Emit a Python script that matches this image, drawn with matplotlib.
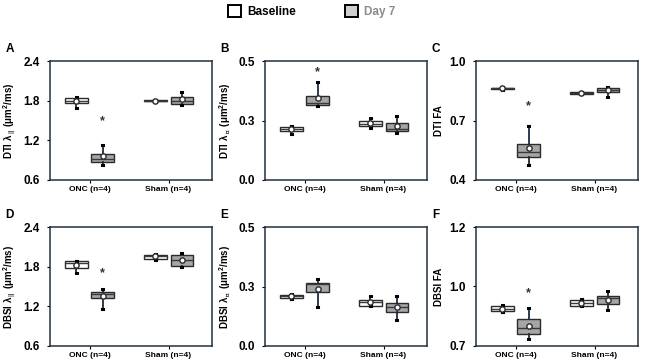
import matplotlib
matplotlib.use("Agg")
import matplotlib.pyplot as plt
from matplotlib.patches import Patch

plt.rcParams["font.family"] = ["Liberation Sans", "DejaVu Sans"]
plt.rcParams["font.weight"] = "bold"
plt.rcParams["mathtext.fontset"] = "custom"
plt.rcParams["mathtext.rm"] = "Liberation Sans:bold"
plt.rcParams["mathtext.it"] = "Liberation Sans:bold"
plt.rcParams["mathtext.bf"] = "Liberation Sans:bold"
plt.rcParams["mathtext.fallback"] = "stix"

# groups / series
groups = ["ONC (n=4)", "Sham (n=4)"]
series = ["Baseline", "Day 7"]
panel_letters = ["A", "B", "C", "D", "E", "F"]
ylabels = [
    r"DTI λ$_{\parallel}$ (μm$^2$/ms)",
    r"DTI λ$_{\perp}$ (μm$^2$/ms)",
    "DTI FA",
    r"DBSI λ$_{\parallel}$ (μm$^2$/ms)",
    r"DBSI λ$_{\perp}$ (μm$^2$/ms)",
    "DBSI FA",
]
ylims = [(0.6, 2.4), (0.0, 0.5), (0.4, 1.0), (0.6, 2.4), (0.0, 0.5), (0.7, 1.2)]
yticks = [
    [0.6, 1.2, 1.8, 2.4],
    [0.0, 0.25, 0.5],
    [0.4, 0.7, 1.0],
    [0.6, 1.2, 1.8, 2.4],
    [0.0, 0.25, 0.5],
    [0.7, 0.95, 1.2],
]
ytick_labels = [
    ["0.6", "1.2", "1.8", "2.4"],
    ["0.0", "0.3", "0.5"],
    ["0.4", "0.7", "1.0"],
    ["0.6", "1.2", "1.8", "2.4"],
    ["0.0", "0.3", "0.5"],
    ["0.7", "1.0", "1.2"],
]

# per panel, order: ONC baseline, ONC day 7, Sham baseline, Sham day 7
q1 = [
    [1.765, 0.865, 1.79, 1.75],
    [0.205, 0.315, 0.225, 0.204],
    [0.858, 0.515, 0.834, 0.842],
    [1.781, 1.324, 1.923, 1.81],
    [0.203, 0.226, 0.17, 0.141],
    [0.847, 0.75, 0.870, 0.875],
]
q3 = [
    [1.835, 1.00, 1.81, 1.86],
    [0.222, 0.351, 0.246, 0.239],
    [0.866, 0.582, 0.842, 0.865],
    [1.882, 1.42, 1.984, 1.969],
    [0.213, 0.266, 0.195, 0.182],
    [0.867, 0.812, 0.892, 0.91],
]
medians = [
    [1.80, 0.925, 1.80, 1.80],
    [0.213, 0.324, 0.235, 0.215],
    [0.862, 0.542, 0.838, 0.852],
    [1.851, 1.394, 1.96, 1.897],
    [0.208, 0.26, 0.186, 0.163],
    [0.857, 0.776, 0.881, 0.90],
]
means = [
    [1.80, 0.96, 1.80, 1.83],
    [0.215, 0.343, 0.24, 0.227],
    [0.862, 0.559, 0.838, 0.852],
    [1.827, 1.359, 1.955, 1.897],
    [0.208, 0.239, 0.184, 0.162],
    [0.856, 0.786, 0.882, 0.894],
]
whisk_lo = [
    [1.69, 0.825, 1.775, 1.74],
    [0.195, 0.31, 0.22, 0.197],
    [0.856, 0.478, 0.832, 0.818],
    [1.70, 1.166, 1.90, 1.795],
    [0.196, 0.164, 0.169, 0.108],
    [0.842, 0.728, 0.868, 0.853],
]
whisk_hi = [
    [1.86, 1.135, 1.815, 1.925],
    [0.228, 0.4125, 0.26, 0.268],
    [0.867, 0.673, 0.843, 0.87],
    [1.885, 1.455, 1.99, 2.01],
    [0.218, 0.283, 0.208, 0.208],
    [0.873, 0.86, 0.896, 0.933],
]
# significance asterisk height (ONC day 7), None = no mark
star_y = [1.49, 0.455, 0.773, 1.705, None, 0.92]

fills = ["white", "#a6a6a6"]
edge = "#2b2b2b"
whisk_col = "#1c2c44"
spine_col = "#22303f"

fig = plt.figure(figsize=(6.56, 3.63), dpi=100)
W, H = 656, 363
lefts = [50, 265, 476]
bottoms_top = [61, 227]
aw, ah = 162, 119

offsets = [-0.165, 0.165]
base_pos = [1, 2]

for i in range(6):
    r, c = divmod(i, 3)
    x0 = lefts[c]
    y0 = bottoms_top[r]
    ax = fig.add_axes([x0 / W, 1 - (y0 + ah) / H, aw / W, ah / H])

    stats, positions, colors = [], [], []
    for g in range(2):
        for s in range(2):
            k = g * 2 + s
            stats.append({
                "med": medians[i][k], "q1": q1[i][k], "q3": q3[i][k],
                "whislo": whisk_lo[i][k], "whishi": whisk_hi[i][k],
                "mean": means[i][k], "fliers": [],
            })
            positions.append(base_pos[g] + offsets[s])
            colors.append(fills[s])

    bp = ax.bxp(
        stats, positions=positions, widths=0.28, patch_artist=True,
        showmeans=True, capwidths=0.02,
        boxprops=dict(edgecolor=edge, linewidth=1.0),
        medianprops=dict(color="#3a3a3a", linewidth=1.0),
        whiskerprops=dict(color=whisk_col, linewidth=1.3),
        capprops=dict(color="black", linewidth=2.2),
        meanprops=dict(marker="o", markerfacecolor="white", markeredgecolor=edge,
                       markersize=3.8, markeredgewidth=1.0),
    )
    for patch, col in zip(bp["boxes"], colors):
        patch.set_facecolor(col)

    if star_y[i] is not None:
        ax.text(base_pos[0] + offsets[1], star_y[i], "*", ha="center", va="center",
                fontsize=9, color="#333333")

    ax.set_xlim(0.5, 2.55)
    ax.set_ylim(*ylims[i])
    ax.set_yticks(yticks[i])
    ax.set_yticklabels(ytick_labels[i], fontsize=8.5, fontweight="bold")
    ax.set_xticks(base_pos)
    ax.set_xticklabels(groups, fontsize=6, fontweight="bold")
    ax.tick_params(axis="y", direction="out", length=2.5, width=0.8, pad=5)
    ax.tick_params(axis="x", direction="out", length=2, width=0.8, pad=2)
    for sp in ax.spines.values():
        sp.set_color(spine_col)
        sp.set_linewidth(1.1)
    ax.set_ylabel(ylabels[i], fontsize=7, fontweight="bold")
    ax.yaxis.set_label_coords(-0.2, 0.5)
    ax.text(-0.25, 1.1, panel_letters[i], transform=ax.transAxes,
            fontsize=8.5, fontweight="bold", ha="center", va="center")

handles = [Patch(facecolor=fills[0], edgecolor="black", linewidth=1.4),
           Patch(facecolor="#cfcfcf", edgecolor="black", linewidth=1.4)]
leg = fig.legend(handles, series, loc="center", bbox_to_anchor=(0.475, 0.968),
                 ncol=2, frameon=False, handlelength=1.1,
                 handleheight=1.1, handletextpad=0.5, columnspacing=4.2,
                 prop={"weight": "bold", "size": 8.5})
for t, col in zip(leg.get_texts(), ["black", "#8c8c8c"]):
    t.set_color(col)

fig.savefig("out.png", dpi=100)
